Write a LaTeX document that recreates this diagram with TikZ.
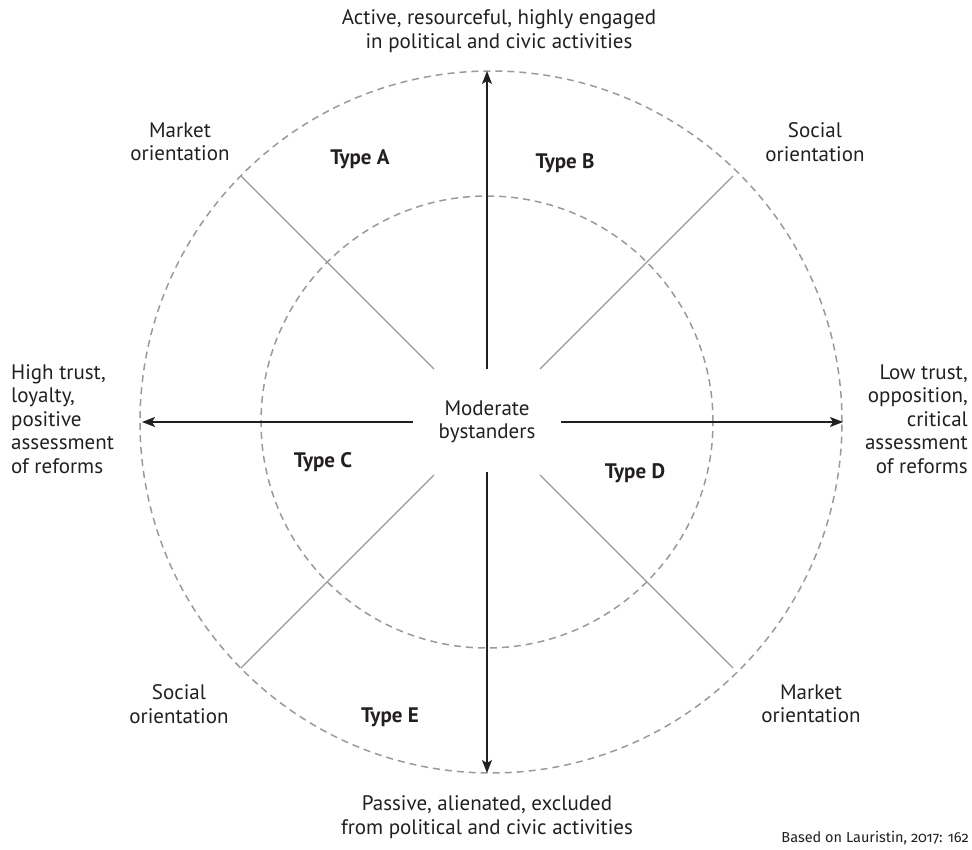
\documentclass[tikz,border=0pt]{standalone}
\usepackage{fontspec}
\setmainfont{PT Sans}
\newfontfamily\creditfont[Numbers=OldStyle]{Fira Sans}
\usetikzlibrary{arrows.meta}
\definecolor{ink}{HTML}{231F20}
\definecolor{rim}{HTML}{9A9A9A}
\begin{document}
\begin{tikzpicture}[x=1pt,y=-1pt,
  lbl/.style={font=\fontsize{21}{23.5}\selectfont, text=ink, align=center, inner sep=0pt},
  typ/.style={font=\fontsize{21}{23.5}\selectfont\bfseries, text=ink, inner sep=0pt},
  axis/.style={-{Stealth[length=13pt,width=10pt,inset=3pt]}, line width=1.3pt, draw=ink},
  spoke/.style={draw=rim, line width=1.2pt},
  ring/.style={draw=rim, line width=1.5pt, dash pattern=on 7pt off 5pt}]
\useasboundingbox (0,0) rectangle (972,850);

% rings
\draw[ring] (491,422) circle[radius=351pt];
\draw[ring] (487,422) circle[radius=226pt];

% diagonal spokes
\draw[spoke] (434,369) -- (241,176);
\draw[spoke] (540,369) -- (733,176);
\draw[spoke] (434,475) -- (241,668);
\draw[spoke] (540,475) -- (733,668);

% centre
\node[lbl] (mid) at (487,422) {Moderate\\bystanders};

% axis end points
\coordinate (nS) at (487,369);
\coordinate (nE) at (487,71);
\coordinate (sS) at (487,472);
\coordinate (sE) at (487,773);
\coordinate (wS) at (413,422);
\coordinate (wE) at (142,422);
\coordinate (eS) at (561,422);
\coordinate (eE) at (843,422);
\draw[axis] (nS) -- (nE);
\draw[axis] (sS) -- (sE);
\draw[axis] (wS) -- (wE);
\draw[axis] (eS) -- (eE);

% axis labels
\node[lbl] (top) at (499,31) {Active, resourceful, highly engaged\\in political and civic activities};
\node[lbl] (bot) at (487,817) {Passive, alienated, excluded\\from political and civic activities};
\node[lbl, align=left, anchor=west] (lft) at (11,419) {High trust,\\loyalty,\\positive\\assessment\\of reforms};
\node[lbl, align=right, anchor=east] (rgt) at (968,419) {Low trust,\\opposition,\\critical\\assessment\\of reforms};

% orientation labels
\node[lbl] (mtl) at (180,142) {Market\\orientation};
\node[lbl] (str) at (815,142) {Social\\orientation};
\node[lbl] (sbl) at (179,704) {Social\\orientation};
\node[lbl] (mbr) at (811,704) {Market\\orientation};

% types
\node[typ] (ta) at (360,159) {Type A};
\node[typ] (tb) at (565,163) {Type B};
\node[typ] (tc) at (323,462) {Type C};
\node[typ] (td) at (635,473) {Type D};
\node[typ] (te) at (390,717) {Type E};

% source
\node[font=\creditfont\fontsize{14.5}{16}\selectfont, text=ink, anchor=east, inner sep=0pt] (src) at (969,838) {Based on Lauristin, 2017: 162};
\end{tikzpicture}
\end{document}
